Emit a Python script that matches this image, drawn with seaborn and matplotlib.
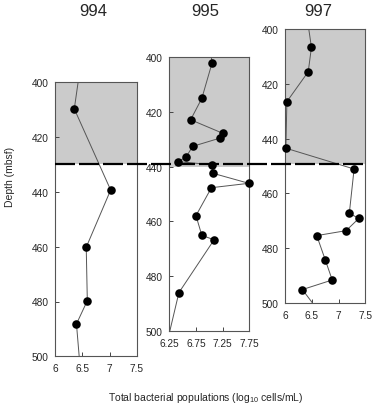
import matplotlib
matplotlib.use("Agg")
import matplotlib.pyplot as plt
import seaborn as sns
import pandas as pd
from matplotlib.lines import Line2D

sns.set_style("white")
plt.rcParams['font.family'] = ['Liberation Sans', 'DejaVu Sans']
plt.rcParams['mathtext.fontset'] = 'custom'
plt.rcParams['mathtext.rm'] = 'Liberation Sans'
plt.rcParams['mathtext.it'] = 'Liberation Sans'

# Site names
sites = ["994", "995", "997"]

# Site 994 (line includes end points at axis edges, markers only on measured points)
depth_994 = [400, 409.7, 439.3, 460.2, 479.7, 488.2, 500]
cells_994 = [6.42, 6.35, 7.02, 6.57, 6.59, 6.39, 6.44]

# Site 995
depth_995 = [400, 402.3, 415.1, 422.9, 427.9, 429.6, 432.6, 436.6, 438.2, 439.3,
             442.4, 446.1, 447.7, 457.9, 465.1, 466.7, 486.0, 500]
cells_995 = [7.04, 7.05, 6.86, 6.65, 7.26, 7.20, 6.69, 6.56, 6.41, 7.05,
             7.06, 7.74, 7.04, 6.75, 6.86, 7.09, 6.43, 6.26]

# Site 997
depth_997 = [400, 406.7, 415.6, 426.5, 443.5, 451.1, 467.3, 469.1, 473.6, 475.4,
             484.3, 491.6, 495.1, 500]
cells_997 = [6.44, 6.49, 6.43, 6.03, 6.01, 7.29, 7.20, 7.38, 7.14, 6.59,
             6.75, 6.88, 6.32, 6.51]

# Depth of the shaded (upper) interval base at each site
boundary = [430, 440, 449.3]

# Axis ranges and ticks
xlims = [(6, 7.5), (6.25, 7.75), (6, 7.5)]
xticks = [[6, 6.5, 7, 7.5], [6.25, 6.75, 7.25, 7.75], [6, 6.5, 7, 7.5]]
xticklabels = [["6", "6.5", "7", "7.5"], ["6.25", "6.75", "7.25", "7.75"], ["6", "6.5", "7", "7.5"]]
yticks = [400, 420, 440, 460, 480, 500]

W, H = 379, 410
fig = plt.figure(figsize=(W / 100, H / 100), dpi=100)

# axes boxes in pixels: left, top, width, height
boxes = [(55.3, 83.3, 81.4, 274), (169.3, 58, 80, 274), (285.3, 30, 80, 274)]
title_x = [93, 205, 318]

data = [(depth_994, cells_994), (depth_995, cells_995), (depth_997, cells_997)]
axes = []
for i, (l, t, w, h) in enumerate(boxes):
    ax = fig.add_axes([l / W, 1 - (t + h) / H, w / W, h / H])
    axes.append(ax)
    d, c = data[i]
    df = pd.DataFrame({"depth": d, "cells": c})
    ax.axhspan(400, boundary[i], color="#cbcbcb", zorder=0, lw=0)
    sns.lineplot(data=df, x="cells", y="depth", sort=False, estimator=None,
                 orient="y", ax=ax, color="#555555", lw=0.7, zorder=2)
    sns.scatterplot(data=df.iloc[1:-1], x="cells", y="depth", ax=ax, color="black",
                    s=38, edgecolor="black", linewidth=0, zorder=3, clip_on=False)
    ax.set_xlim(*xlims[i])
    ax.set_ylim(500, 400)
    ax.set_xticks(xticks[i])
    ax.set_xticklabels(xticklabels[i])
    ax.set_yticks(yticks)
    ax.set_yticklabels([str(v) for v in yticks])
    ax.tick_params(axis="both", direction="in", length=3, width=0.7, color="#444444",
                   labelsize=7.3, pad=5, left=True, bottom=True)
    ax.set_xlabel("")
    ax.set_ylabel("")
    for sp in ax.spines.values():
        sp.set_visible(True)
        sp.set_color("#555555")
        sp.set_linewidth(0.8)
    fig.text(title_x[i] / W, 1 - 12 / H, sites[i], ha="center", va="center", fontsize=12)

# dashed boundary line across all panels
yfig = 1 - 165 / H
fig.add_artist(Line2D([55.3 / W, 365.3 / W], [yfig, yfig], transform=fig.transFigure,
                      color="black", lw=1.6, linestyle=(0, (9, 1.8)), zorder=10))

fig.text(10 / W, 1 - 177 / H, "Depth (mbsf)", rotation=90, ha="center", va="center", fontsize=7.5)
fig.text(206 / W, 1 - 398 / H, "Total bacterial populations (log$_{\\mathregular{10}}$ cells/mL)",
         ha="center", va="center", fontsize=7.5)

fig.savefig("out.png", dpi=100)
